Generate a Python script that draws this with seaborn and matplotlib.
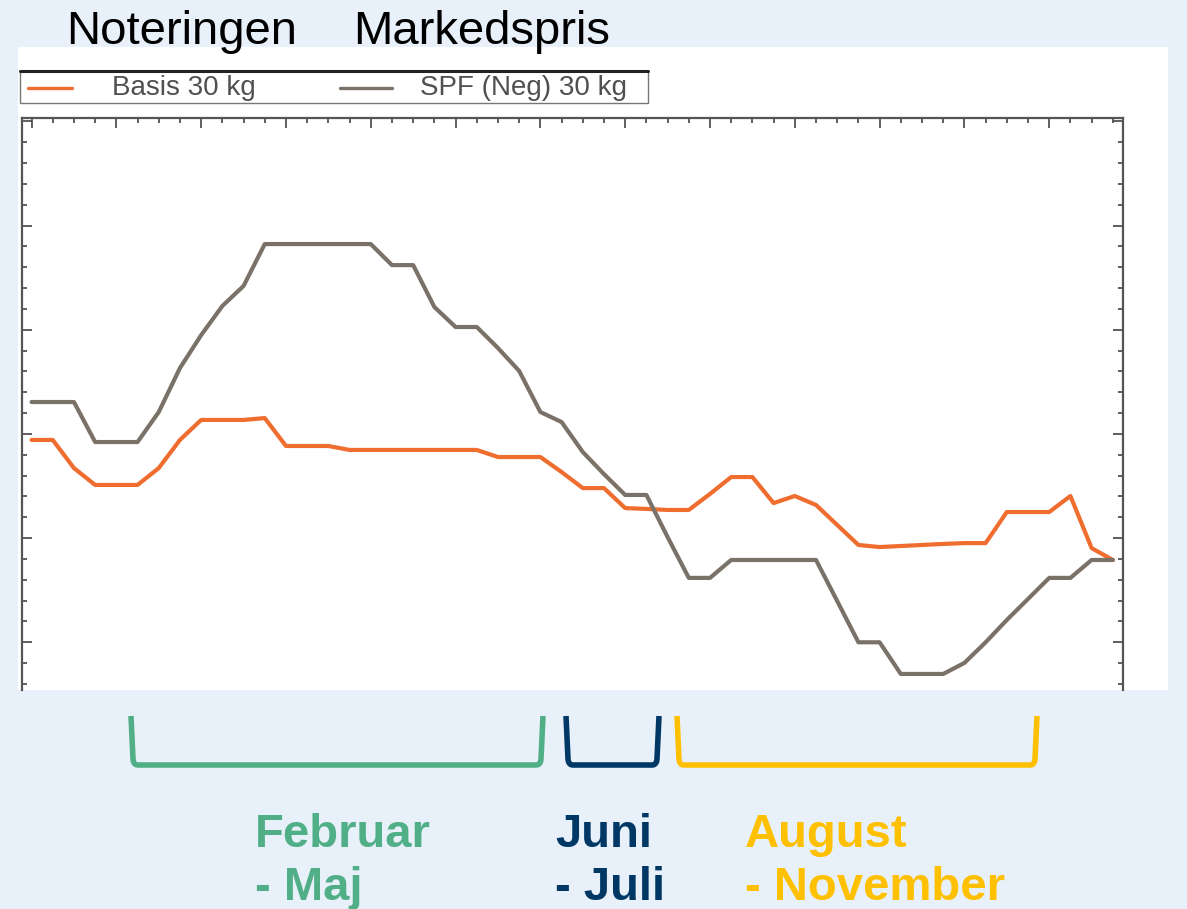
import numpy as np
import pandas as pd
import matplotlib
matplotlib.use("Agg")
import matplotlib.pyplot as plt
import seaborn as sns
from matplotlib.patches import Rectangle
from matplotlib.lines import Line2D

# ---------------- data (y axis has no labels) ----------------
weeks = list(range(52))
basis_30kg = [397.1, 397.1, 383.6, 375.5, 375.5, 375.5, 383.6, 397.1, 406.7, 406.7,
              406.7, 407.6, 394.2, 394.2, 394.2, 392.3, 392.3, 392.3, 392.3, 392.3,
              392.3, 392.3, 388.9, 388.9, 388.9, 381.7, 374.0, 374.0, 364.4, 364.0,
              363.5, 363.5, 371.2, 379.3, 379.3, 366.8, 370.2, 365.9, 356.3, 346.7,
              345.7, 346.2, 346.7, 347.2, 347.6, 347.6, 362.5, 362.5, 362.5, 370.2,
              345.2, 339.5]
spf_neg_30kg = [415.3, 415.3, 415.3, 396.1, 396.1, 396.1, 410.5, 431.6, 447.4, 461.4,
                471.0, 491.1, 491.1, 491.1, 491.1, 491.1, 491.1, 481.0, 481.0, 460.9,
                451.3, 451.3, 441.2, 430.2, 410.5, 405.7, 391.3, 380.7, 370.7, 370.7,
                350.5, 330.9, 330.9, 339.5, 339.5, 339.5, 339.5, 339.5, 319.8, 300.0,
                300.0, 284.8, 284.8, 284.8, 290.1, 300.0, 310.7, 320.8, 330.9, 330.9,
                339.5, 339.5]
series_names = ["Basis 30 kg", "SPF (Neg) 30 kg"]
header_labels = ["Noteringen", "Markedspris"]
period_lines = [["Februar", "- Maj"], ["Juni", "- Juli"], ["August", "- November"]]

# ---------------- style ----------------
W, H = 1187, 909
BG = "#E8F0FA"
ORANGE = "#EF6D2F"
GREY = "#7A7269"
period_colors = ["#50AF87", "#003865", "#FFC000"]

sns.set_theme(style="white")
plt.rcParams["font.family"] = ["Liberation Sans", "DejaVu Sans"]

def fx(x):
    return x / W

def fy(y):
    return 1 - y / H

fig = plt.figure(figsize=(W / 100, H / 100), dpi=100, facecolor=BG)

# white panel behind chart image
fig.patches.append(Rectangle((fx(18), fy(690)), (1168 - 18) / W, (690 - 47) / H,
                             transform=fig.transFigure, facecolor="white",
                             edgecolor="none", zorder=-5))

ax = fig.add_axes([fx(22), fy(690), (1123 - 22) / W, (690 - 118) / H])
ax.set_zorder(2)
ax.set_facecolor("white")

df = pd.DataFrame({
    "uge": weeks * 2,
    "pris": basis_30kg + spf_neg_30kg,
    "serie": [series_names[0]] * len(weeks) + [series_names[1]] * len(weeks),
})
sns.lineplot(data=df, x="uge", y="pris", hue="serie",
             palette={series_names[0]: ORANGE, series_names[1]: GREY},
             linewidth=3.0, legend=False, ax=ax)
for ln in ax.get_lines():
    ln.set_solid_joinstyle("round")

ax.set_xlim(-0.45, 51.48)
ax.set_ylim(277.1, 551.6)
ax.set_xlabel("")
ax.set_ylabel("")

for s in ["left", "top", "right"]:
    ax.spines[s].set_visible(True)
    ax.spines[s].set_color("#555555")
    ax.spines[s].set_linewidth(1.6)
ax.spines["bottom"].set_visible(False)

ax.set_xticks(np.arange(0, 52, 4))
ax.set_xticks(np.arange(0, 52, 1), minor=True)
ax.set_yticks(np.arange(300, 551, 50))
ax.set_yticks(np.arange(280, 551, 10), minor=True)
ax.tick_params(axis="x", which="both", direction="in", top=True, bottom=False,
               labeltop=False, labelbottom=False, color="#444444", width=1.2)
ax.tick_params(axis="y", which="both", direction="in", left=True, right=True,
               labelleft=False, labelright=False, color="#444444", width=1.2)
ax.tick_params(which="major", length=7)
ax.tick_params(which="minor", length=3.5)

# legend box (as in the original chart image)
fig.patches.append(Rectangle((fx(20), fy(103)), (648 - 20) / W, (103 - 71) / H,
                             transform=fig.transFigure, facecolor="white",
                             edgecolor="#777777", linewidth=1.0, zorder=3))
fig.add_artist(Line2D([fx(20), fx(648)], [fy(71), fy(71)], color="#222222",
                      linewidth=2.2, zorder=4))
fig.add_artist(Line2D([fx(28), fx(72)], [fy(88), fy(88)], color=ORANGE,
                      linewidth=2.4, zorder=4))
fig.add_artist(Line2D([fx(340), fx(392)], [fy(88), fy(88)], color=GREY,
                      linewidth=2.4, zorder=4))
fig.text(fx(112), fy(88), series_names[0], fontsize=20, color="#505050",
         va="center", ha="left", zorder=5)
fig.text(fx(420), fy(88), series_names[1], fontsize=20, color="#505050",
         va="center", ha="left", zorder=5)

# header texts
fig.text(fx(66), fy(44), header_labels[0], fontsize=34, color="black",
         va="baseline", ha="left")
fig.text(fx(353), fy(44), header_labels[1], fontsize=34, color="black",
         va="baseline", ha="left")

# period brackets with slightly rounded lower corners
def corner(p0, p1, p2, n=8):
    t = np.linspace(0, 1, n)[:, None]
    p0, p1, p2 = map(np.array, (p0, p1, p2))
    return ((1 - t) ** 2) * p0 + 2 * (1 - t) * t * p1 + (t ** 2) * p2

brackets = [(131, 543), (566, 659), (677, 1037)]
top_y, bot_y, r = 716, 765, 6
for (x0, x1), c in zip(brackets, period_colors):
    left_c = corner((x0 + 2, bot_y - r), (x0 + 2.5, bot_y), (x0 + r + 1, bot_y))
    right_c = corner((x1 - r - 1, bot_y), (x1 - 2.5, bot_y), (x1 - 2, bot_y - r))
    pts = np.vstack([[[x0, top_y]], left_c, right_c, [[x1, top_y]]])
    fig.add_artist(Line2D(pts[:, 0] / W, 1 - pts[:, 1] / H, color=c,
                          linewidth=4.0, solid_joinstyle="round",
                          solid_capstyle="butt"))

text_x = [255, 555, 745]
for tx, lines, c in zip(text_x, period_lines, period_colors):
    fig.text(fx(tx), fy(847), lines[0], fontsize=34, fontweight="bold", color=c,
             va="baseline", ha="left")
    fig.text(fx(tx), fy(900), lines[1], fontsize=34, fontweight="bold", color=c,
             va="baseline", ha="left")

fig.savefig("out.png", dpi=100, facecolor=BG)
